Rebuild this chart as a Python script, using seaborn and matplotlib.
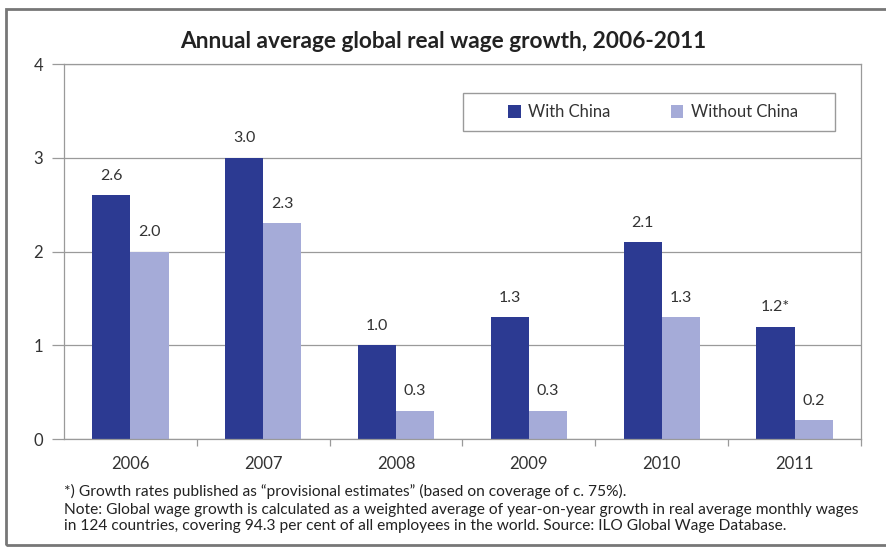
import matplotlib
matplotlib.use("Agg")
import matplotlib.pyplot as plt
import seaborn as sns
import pandas as pd
from matplotlib.patches import Rectangle

years = ["2006", "2007", "2008", "2009", "2010", "2011"]
with_china = [2.6, 3.0, 1.0, 1.3, 2.1, 1.2]
without_china = [2.0, 2.3, 0.3, 0.3, 1.3, 0.2]
with_labels = ["2.6", "3.0", "1.0", "1.3", "2.1", "1.2*"]
without_labels = ["2.0", "2.3", "0.3", "0.3", "1.3", "0.2"]
series = ["With China", "Without China"]
yticks = [0, 1, 2, 3, 4]
title = "Annual average global real wage growth, 2006-2011"
note1 = "*) Growth rates published as \u201cprovisional estimates\u201d (based on coverage of c. 75%)."
note2 = ("Note: Global wage growth is calculated as a weighted average of year-on-year growth in real average monthly wages\n"
         "in 124 countries, covering 94.3 per cent of all employees in the world. Source: ILO Global Wage Database.")

df = pd.DataFrame({
    "year": years * 2,
    "value": with_china + without_china,
    "series": [series[0]] * len(years) + [series[1]] * len(years),
})

sns.set_theme(style="white")
plt.rcParams["font.family"] = ["Lato", "DejaVu Sans"]

dark = "#2C3A92"
light = "#A5ABD8"
txt = "#333333"
grey = "#9a9a9a"

fig = plt.figure(figsize=(8.87, 5.47), dpi=100)
# outer frame
fig.patches.append(Rectangle((6 / 887, 2 / 547), 1.0, 1 - 11 / 547, transform=fig.transFigure,
                             fill=False, edgecolor="#777777", linewidth=2.0))

ax = fig.add_axes([64 / 887, 1 - 439 / 547, (861 - 64) / 887, (439 - 64) / 547])
sns.barplot(data=df, x="year", y="value", hue="series", palette=[dark, light],
            width=0.575, ax=ax, saturation=1, edgecolor="none", legend=True)

ax.set_xlim(-0.5, 5.5)
ax.set_ylim(0, 4)
ax.set_yticks(yticks)
ax.set_yticklabels([str(t) for t in yticks], fontsize=12, color=txt)
ax.yaxis.grid(True, color=grey, linewidth=0.9)
ax.set_axisbelow(True)
for s in ax.spines.values():
    s.set_visible(True)
    s.set_color(grey)
    s.set_linewidth(0.9)
ax.tick_params(axis="y", length=9, color=grey, width=0.9, pad=6, left=True)
ax.set_xticks(range(len(years)))
ax.set_xticklabels(years, fontsize=12, color=txt)
ax.tick_params(axis="x", which="major", length=0, pad=12)
ax.set_xticks([i + 0.5 for i in range(len(years))], minor=True)
ax.tick_params(axis="x", which="minor", length=5, color=grey, width=0.9, bottom=True)
ax.set_xlabel("")
ax.set_ylabel("")

for cont, labs in zip(ax.containers, [with_labels, without_labels]):
    ax.bar_label(cont, labels=labs, padding=9, fontsize=11.5, color=txt)

# legend box
ax.add_patch(Rectangle(((463 - 64) / 797, 1 - (131 - 64) / 375), (835 - 463) / 797, (131 - 93) / 375,
                       transform=ax.transAxes, facecolor="white", edgecolor=grey, linewidth=1.0,
                       zorder=5, clip_on=False))
handles, labels = ax.get_legend_handles_labels()
leg = ax.legend(handles, labels, ncol=2, loc="center",
                bbox_to_anchor=((653 - 64) / 797, 1 - (112 - 64) / 375),
                fontsize=12, frameon=False,
                handlelength=0.75, handleheight=0.8, handletextpad=0.45, columnspacing=3.6,
                borderpad=0, borderaxespad=0, labelcolor=txt)
leg.set_zorder(6)

fig.text(443 / 887, 1 - 42 / 547, title, ha="center", va="center", fontsize=16.3,
         fontweight="bold", color="#222222")
fig.text(64 / 887, 1 - 491 / 547, note1, ha="left", va="center", fontsize=11.2, color="#222222")
fig.text(64 / 887, 1 - 518 / 547, note2, ha="left", va="center", fontsize=11.2, color="#222222",
         linespacing=1.1)

fig.savefig("out.png", dpi=100)
